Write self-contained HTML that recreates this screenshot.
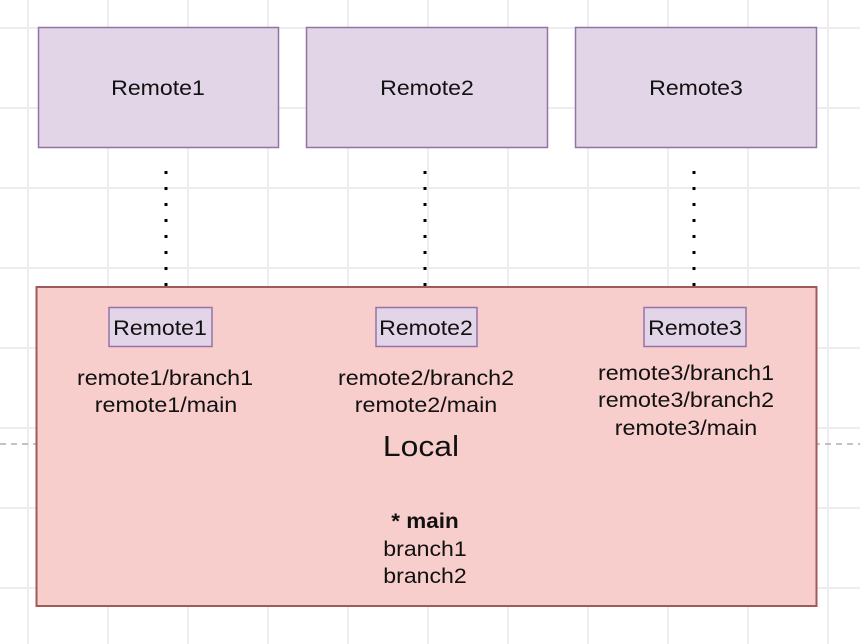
<!DOCTYPE html>
<html><head><style>
html,body{margin:0;padding:0;background:#fff;}
svg{display:block;}
text{font-family:"Liberation Sans",Arial,sans-serif;fill:#111;text-anchor:middle;}
</style></head><body>
<svg width="860" height="644" xmlns="http://www.w3.org/2000/svg">
<defs>
<pattern id="g" x="27" y="27" width="80" height="80" patternUnits="userSpaceOnUse">
<rect x="0" y="0" width="2" height="80" fill="#eeecef"/>
<rect x="0" y="0" width="80" height="2" fill="#eeecef"/>
</pattern>
</defs>
<rect x="0" y="0" width="860" height="644" fill="url(#g)"/>
<line x1="0" y1="444" x2="860" y2="444" stroke="#b8a8b8" stroke-width="1.5" stroke-dasharray="6,5"/>
<g fill="#e1d5e7" stroke="#9673a6" stroke-width="1.5">
<rect x="38.5" y="27.5" width="240" height="120"/>
<rect x="306.5" y="27.5" width="241" height="120"/>
<rect x="575.5" y="27.5" width="241" height="120"/>
</g>
<g font-size="21">
<text transform="translate(158,95) scale(1.1,1)">Remote1</text>
<text transform="translate(427,95) scale(1.1,1)">Remote2</text>
<text transform="translate(696,95) scale(1.1,1)">Remote3</text>
</g>
<g stroke="#000" stroke-width="3" stroke-dasharray="3,13">
<line x1="166" y1="171" x2="166" y2="288"/>
<line x1="425" y1="171" x2="425" y2="288"/>
<line x1="694" y1="171" x2="694" y2="288"/>
</g>
<rect x="36.5" y="287" width="780" height="319" fill="#f8cecc" stroke="#a05a5a" stroke-width="2"/>
<g fill="#e1d5e7" stroke="#9673a6" stroke-width="1.5">
<rect x="109" y="307.5" width="103" height="39"/>
<rect x="376" y="307.5" width="101" height="39"/>
<rect x="644" y="307.5" width="102" height="39"/>
</g>
<g font-size="21">
<text transform="translate(160,335) scale(1.1,1)">Remote1</text>
<text transform="translate(426,335) scale(1.1,1)">Remote2</text>
<text transform="translate(695,335) scale(1.1,1)">Remote3</text>
<text transform="translate(165,385) scale(1.11,1)">remote1/branch1</text>
<text transform="translate(166,412) scale(1.11,1)">remote1/main</text>
<text transform="translate(426,385) scale(1.11,1)">remote2/branch2</text>
<text transform="translate(426,412) scale(1.11,1)">remote2/main</text>
<text transform="translate(686,380) scale(1.11,1)">remote3/branch1</text>
<text transform="translate(686,407) scale(1.11,1)">remote3/branch2</text>
<text transform="translate(686,435) scale(1.11,1)">remote3/main</text>
<text transform="translate(421,456) scale(1.1,1)" font-size="29">Local</text>
<text transform="translate(425,528) scale(1.07,1)" font-weight="bold">* main</text>
<text transform="translate(425,556) scale(1.1,1)">branch1</text>
<text transform="translate(425,583) scale(1.1,1)">branch2</text>
</g>
</svg>
</body></html>
